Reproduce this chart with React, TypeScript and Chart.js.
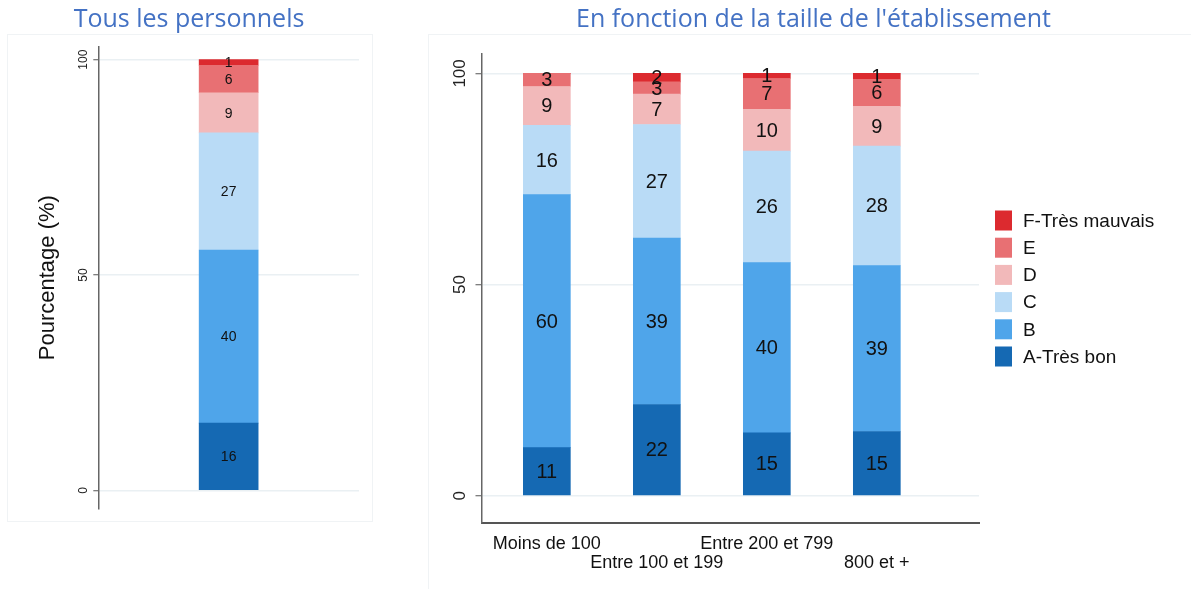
import React, { useEffect, useRef } from 'react';
import { Chart, registerables } from 'chart.js';
Chart.register(...registerables);

// ---- data ----
const levelLabels = ['A-Très bon', 'B', 'C', 'D', 'E', 'F-Très mauvais'];
const levelColors = ['#1569b3', '#4fa5ea', '#b9dbf6', '#f2b9ba', '#e87073', '#dc2a2f'];

// "Tous les personnels" (one bar), values per level A..F
const allStaffValues = [15.6, 40.2, 27.2, 9.3, 6.4, 1.3];

// "En fonction de la taille de l'établissement"
const sizeCategories = ['Moins de 100', 'Entre 100 et 199', 'Entre 200 et 799', '800 et +'];
const sizeA = [11.4, 21.6, 14.9, 15.2];
const sizeB = [59.9, 39.4, 40.3, 39.3];
const sizeC = [16.4, 26.9, 26.4, 28.3];
const sizeD = [9.2, 7.2, 9.9, 9.4];
const sizeE = [3.1, 2.9, 7.3, 6.4];
const sizeF = [0, 2.0, 1.2, 1.4];
const sizeSeries = [sizeA, sizeB, sizeC, sizeD, sizeE, sizeF];

const yTicks = [0, 50, 100];

const FONT = '"Liberation Sans", Arial, sans-serif';

const valueLabels = (fontSize: number) => ({
  id: 'valueLabels',
  afterDatasetsDraw(chart: any) {
    const ctx = chart.ctx;
    ctx.save();
    ctx.font = `${fontSize}px ${FONT}`;
    ctx.fillStyle = '#111';
    ctx.textAlign = 'center';
    ctx.textBaseline = 'middle';
    chart.data.datasets.forEach((ds: any, di: number) => {
      const meta = chart.getDatasetMeta(di);
      meta.data.forEach((el: any, i: number) => {
        const raw = ds.data[i];
        const v = typeof raw === 'number' ? raw : raw.y;
        if (!v) return;
        const { x, y, base } = el.getProps(['x', 'y', 'base'], true);
        ctx.fillText(String(Math.round(v)), x, (y + base) / 2 + 1);
      });
    });
    ctx.restore();
  },
});

const sideLegend = {
  id: 'sideLegend',
  afterDraw(chart: any) {
    const ctx = chart.ctx;
    const area = chart.chartArea;
    const n = chart.data.datasets.length;
    const step = 27.2;
    const cy = (area.top + area.bottom) / 2;
    const x0 = area.right + 16;
    ctx.save();
    ctx.font = `19px ${FONT}`;
    ctx.textAlign = 'left';
    ctx.textBaseline = 'middle';
    for (let k = 0; k < n; k++) {
      const di = n - 1 - k;
      const ds = chart.data.datasets[di];
      const yc = cy + (k - (n - 1) / 2) * step;
      ctx.fillStyle = ds.backgroundColor;
      ctx.fillRect(x0, yc - 10, 17, 20);
      ctx.fillStyle = '#111';
      ctx.fillText(ds.label, x0 + 28, yc + 1);
    }
    ctx.restore();
  },
};

function LeftChart() {
  const ref = useRef<HTMLCanvasElement>(null);
  useEffect(() => {
    const chart = new Chart(ref.current!, {
      type: 'bar',
      data: {
        labels: [''],
        datasets: levelLabels.map((lab, i) => ({
          label: lab,
          data: [allStaffValues[i]],
          backgroundColor: levelColors[i],
          borderWidth: 0,
          barThickness: 59,
        })),
      },
      options: {
        animation: false,
        responsive: false,
        layout: { padding: { left: 0, top: 46.7, right: 41, bottom: 80.3 } },
        plugins: { legend: { display: false }, tooltip: { enabled: false } },
        scales: {
          x: { stacked: true, display: false, offset: true },
          y: {
            stacked: true,
            min: -4.27,
            max: 103,
            afterBuildTicks: (s: any) => { s.ticks = yTicks.map((v) => ({ value: v })); },
            afterFit: (s: any) => { s.width = 98.3; },
            grid: { color: '#eaf0f3', lineWidth: 1.5, tickColor: '#555', tickLength: 5, tickWidth: 1 },
            border: { color: '#666', width: 1.5 },
            ticks: {
              minRotation: 90, maxRotation: 90, crossAlign: 'center', padding: 0,
              font: { family: FONT, size: 12 }, color: '#222',
            },
            title: {
              display: true, text: 'Pourcentage (%)', color: '#111',
              font: { family: FONT, size: 22 }, padding: { top: 35, bottom: 0 },
            },
          },
        },
      },
      plugins: [valueLabels(14)],
    } as any);
    return () => chart.destroy();
  }, []);
  return <canvas ref={ref} width={400} height={589} style={{ position: 'absolute', left: 0, top: 0 }} />;
}

function RightChart() {
  const ref = useRef<HTMLCanvasElement>(null);
  useEffect(() => {
    const chart = new Chart(ref.current!, {
      type: 'bar',
      data: {
        datasets: levelLabels.map((lab, i) => ({
          label: lab,
          data: sizeSeries[i].map((v, j) => ({ x: j, y: v })),
          backgroundColor: levelColors[i],
          borderWidth: 0,
          barThickness: 47,
        })),
      },
      options: {
        animation: false,
        responsive: false,
        layout: { padding: { left: 0, top: 54, right: 212, bottom: 0 } },
        plugins: { legend: { display: false }, tooltip: { enabled: false } },
        scales: {
          x: {
            type: 'linear',
            stacked: true,
            offset: false,
            bounds: 'data',
            min: -0.594,
            max: 3.929,
            afterBuildTicks: (s: any) => { s.ticks = sizeCategories.map((_, j) => ({ value: j })); },
            afterFit: (s: any) => { s.height = 66; },
            grid: { display: false, drawTicks: false, offset: false },
            border: { display: true, color: '#555', width: 2 },
            ticks: {
              autoSkip: false,
              padding: 11, color: '#111', maxRotation: 0, minRotation: 0,
              font: { family: FONT, size: 18, lineHeight: 1.08 },
              callback: (v: any) => {
                const j = Math.round(v);
                const c = sizeCategories[j] ?? '';
                return j % 2 === 0 ? [c, ''] : ['', c];
              },
            },
          },
          y: {
            stacked: true,
            min: -6.46,
            max: 104.6,
            afterBuildTicks: (s: any) => { s.ticks = yTicks.map((v) => ({ value: v })); },
            afterFit: (s: any) => { s.width = 61.5; },
            grid: { color: '#eaf0f3', lineWidth: 1.5, tickColor: '#555', tickLength: 6, tickWidth: 1 },
            border: { color: '#666', width: 1.5 },
            ticks: {
              minRotation: 90, maxRotation: 90, crossAlign: 'center', padding: 1,
              font: { family: FONT, size: 17 }, color: '#222',
            },
          },
        },
      },
      plugins: [valueLabels(20), sideLegend],
    } as any);
    return () => chart.destroy();
  }, []);
  return <canvas ref={ref} width={771} height={589} style={{ position: 'absolute', left: 420, top: 0 }} />;
}

const titleStyle: React.CSSProperties = {
  position: 'absolute',
  width: 600,
  textAlign: 'center',
  fontFamily: '"Open Sans", sans-serif',
  fontSize: 25,
  lineHeight: '25px',
  color: '#4472c4',
  whiteSpace: 'nowrap',
  top: 4.5,
};

export default function App() {
  return (
    <div style={{ position: 'absolute', left: 0, top: 0, width: 1191, height: 589, background: '#fff', overflow: 'hidden' }}>
      <div style={{ position: 'absolute', left: 7, top: 34, width: 364, height: 486, border: '1px solid #f0f3f5' }} />
      <div style={{ position: 'absolute', left: 428, top: 34, width: 800, height: 600, border: '1px solid #f0f3f5' }} />
      <LeftChart />
      <RightChart />
      <div style={{ ...titleStyle, left: 189 - 300 }}>Tous les personnels</div>
      <div style={{ ...titleStyle, left: 813.5 - 300 }}>En fonction de la taille de l'établissement</div>
    </div>
  );
}
